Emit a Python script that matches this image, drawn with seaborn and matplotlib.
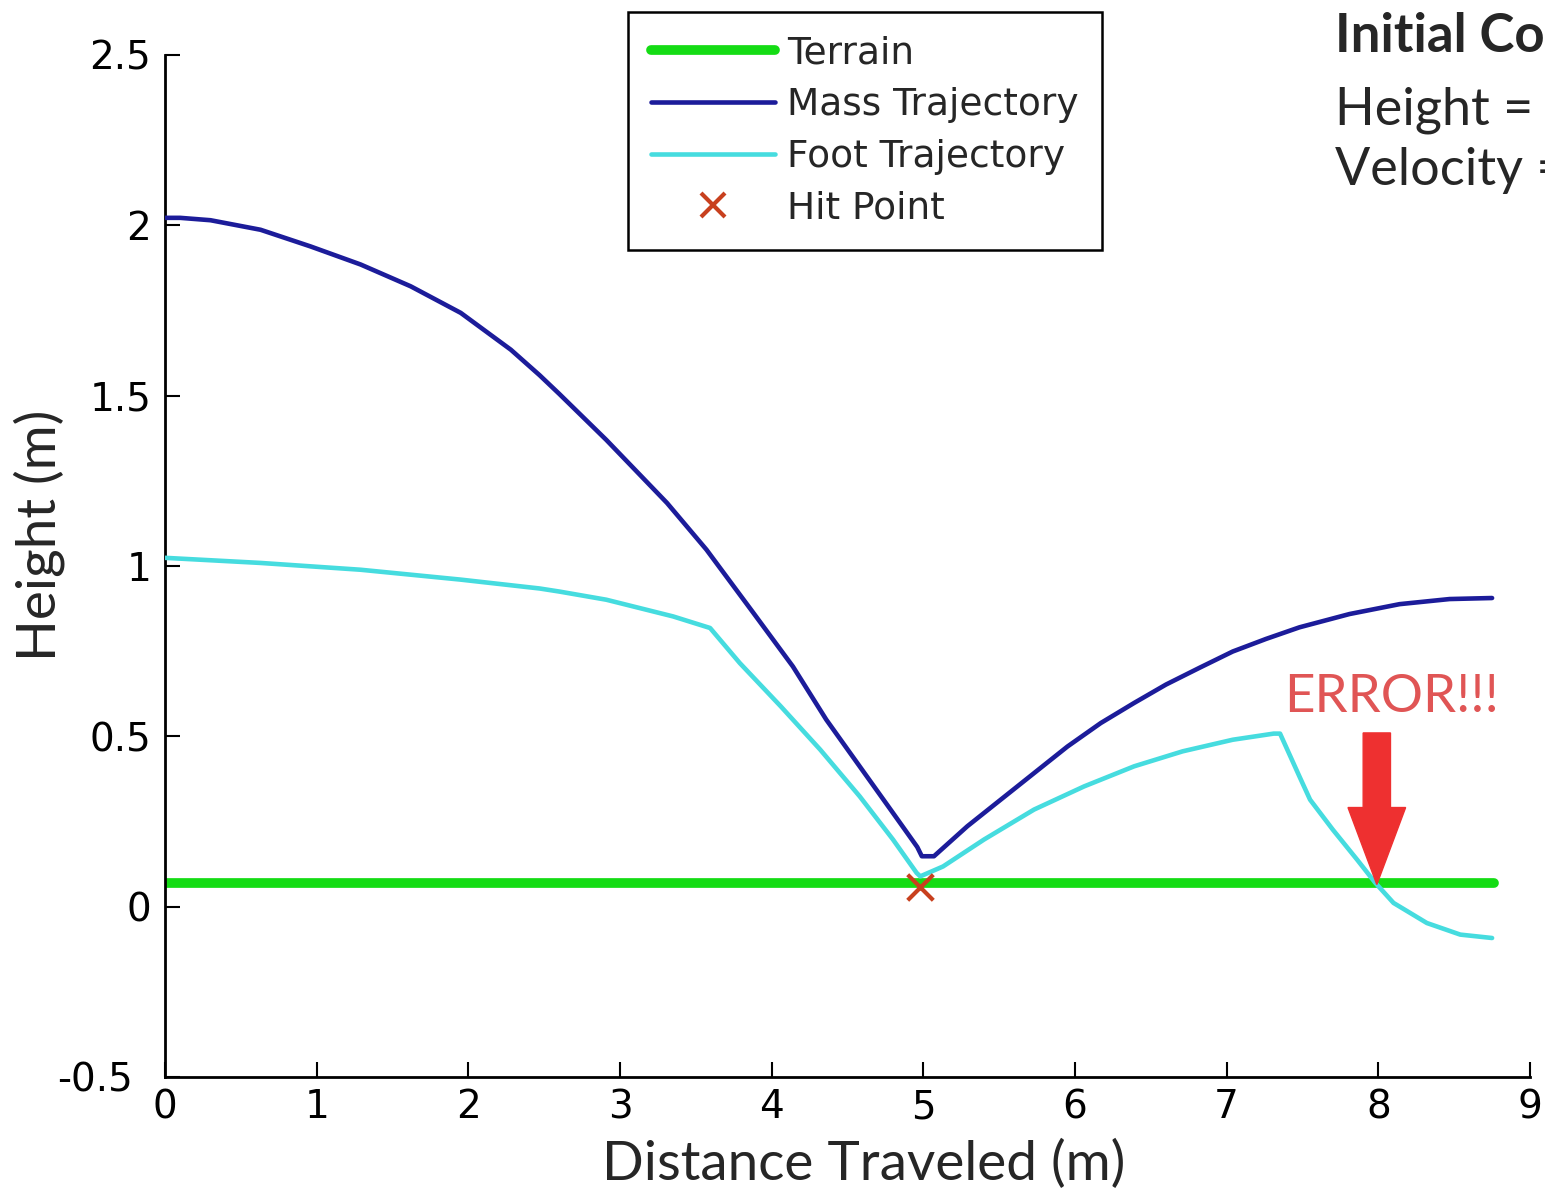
import numpy as np
import pandas as pd
import matplotlib
matplotlib.use("Agg")
import matplotlib.pyplot as plt
from matplotlib.lines import Line2D
from matplotlib.patches import FancyArrow
from matplotlib.transforms import ScaledTranslation
import seaborn as sns

# ---------------- data ----------------
terrain_x = [0.0, 8.76]
terrain_y = [0.069, 0.069]

mass_x = [0.0, 0.10, 0.30, 0.63, 0.96, 1.29, 1.62, 1.95, 2.28, 2.47, 2.60,
          2.91, 3.31, 3.57, 3.88, 4.14, 4.36, 4.58, 4.80, 4.96, 4.99, 5.07,
          5.29, 5.51, 5.73, 5.95, 6.17, 6.39, 6.60, 6.82, 7.04, 7.26, 7.48,
          7.81, 8.14, 8.47, 8.75]
mass_y = [2.022, 2.022, 2.015, 1.987, 1.938, 1.885, 1.821, 1.743, 1.635, 1.560,
          1.505, 1.370, 1.185, 1.048, 0.862, 0.705, 0.549, 0.412, 0.275, 0.175,
          0.148, 0.148, 0.236, 0.314, 0.392, 0.470, 0.539, 0.598, 0.652, 0.701,
          0.749, 0.786, 0.820, 0.859, 0.888, 0.903, 0.906]

foot_x = [0.0, 0.63, 1.29, 1.95, 2.47, 2.60, 2.91, 3.35, 3.594, 3.79, 4.06,
          4.32, 4.58, 4.80, 4.956, 4.98, 5.13, 5.40, 5.73, 6.06, 6.39, 6.71,
          7.04, 7.31, 7.352, 7.48, 7.55, 7.70, 7.86, 7.98, 8.10, 8.32, 8.54, 8.75]
foot_y = [1.024, 1.009, 0.989, 0.960, 0.934, 0.925, 0.901, 0.852, 0.818, 0.715,
          0.588, 0.461, 0.324, 0.197, 0.099, 0.089, 0.118, 0.197, 0.285, 0.353,
          0.412, 0.456, 0.490, 0.508, 0.508, 0.382, 0.314, 0.226, 0.138, 0.070,
          0.011, -0.048, -0.082, -0.092]

hit_x = [4.98]
hit_y = [0.058]

x_ticks = [0, 1, 2, 3, 4, 5, 6, 7, 8, 9]
y_ticks = [-0.5, 0, 0.5, 1, 1.5, 2, 2.5]
y_tick_labels = ["-0.5", "0", "0.5", "1", "1.5", "2", "2.5"]

series_labels = ["Terrain", "Mass Trajectory", "Foot Trajectory", "Hit Point"]

# annotation (error arrow)
err_x = 7.99
err_tip_y = 0.065
err_top_y = 0.51

# ---------------- style ----------------
sns.set_style("white")
plt.rcParams["font.family"] = ["DejaVu Sans"]

C_TERRAIN = "#14dc14"
C_MASS = "#1c1c9a"
C_FOOT = "#46dcdf"
C_HIT = "#c8401e"
C_ERR = "#ee3030"
LABEL_FONT = ["Lato", "DejaVu Sans"]

fig = plt.figure(figsize=(15.45, 11.94), dpi=100)
ax = fig.add_axes([165 / 1545, 1 - 1077 / 1194, (1530 - 165) / 1545, (1077 - 55) / 1194])

df_t = pd.DataFrame({"x": terrain_x, "y": terrain_y})
df_m = pd.DataFrame({"x": mass_x, "y": mass_y})
df_f = pd.DataFrame({"x": foot_x, "y": foot_y})
df_h = pd.DataFrame({"x": hit_x, "y": hit_y})

sns.lineplot(data=df_t, x="x", y="y", ax=ax, color=C_TERRAIN, linewidth=7,
             estimator=None, zorder=2)
sns.lineplot(data=df_m, x="x", y="y", ax=ax, color=C_MASS, linewidth=3.3,
             estimator=None, zorder=3)
sns.lineplot(data=df_f, x="x", y="y", ax=ax, color=C_FOOT, linewidth=3.3,
             estimator=None, zorder=3)
sns.scatterplot(data=df_h, x="x", y="y", ax=ax, marker="x", s=340,
                color=C_HIT, linewidth=3, zorder=4)

# error arrow
ax.add_patch(FancyArrow(err_x, err_top_y, 0, err_tip_y - err_top_y,
                        width=0.18, head_width=0.38, head_length=0.226,
                        length_includes_head=True, color=C_ERR, zorder=5))
ax.text(8.09, 0.57, "ERROR!!!", color="#e05555", fontsize=38,
        family=LABEL_FONT, ha="center", va="baseline")

ax.set_xlim(0, 9)
ax.set_ylim(-0.5, 2.5)
ax.set_xticks(x_ticks)
ax.set_xticklabels([str(t) for t in x_ticks])
ax.set_yticks(y_ticks)
ax.set_yticklabels(y_tick_labels)
ax.tick_params(direction="in", length=11, width=1.5, labelsize=28,
               colors="black", pad=8, bottom=True, left=True)
ax.tick_params(axis="y", pad=10)
sns.despine(ax=ax, top=True, right=True)
for sp in ["left", "bottom"]:
    ax.spines[sp].set_linewidth(2)
    ax.spines[sp].set_color("black")

# MATLAB nudges the lowest y label left so it does not collide with the "0" x label
lowest = ax.get_yticklabels()[0]
lowest.set_transform(lowest.get_transform() + ScaledTranslation(-0.18, 0, fig.dpi_scale_trans))

ax.set_xlabel("Distance Traveled (m)", fontsize=39.5, family=LABEL_FONT)
ax.set_ylabel("Height (m)", fontsize=39.5, family=LABEL_FONT)
ax.xaxis.set_label_coords(0.512, -0.0607)
ax.yaxis.set_label_coords(-0.0733, 0.530)

handles = [
    Line2D([], [], color=C_TERRAIN, linewidth=7),
    Line2D([], [], color=C_MASS, linewidth=3.3),
    Line2D([], [], color=C_FOOT, linewidth=3.3),
    Line2D([], [], color=C_HIT, linestyle="none", marker="x", markersize=17, mew=3),
]
leg = ax.legend(handles, series_labels, loc="upper left",
                bbox_to_anchor=((628 - 165) / 1365, (1077 - 12) / 1022),
                fontsize=27, frameon=True, fancybox=False, framealpha=1,
                edgecolor="black", handlelength=3.3, handletextpad=0.32,
                labelspacing=0.42, borderpad=0.62, borderaxespad=0)
leg.get_frame().set_linewidth(1.8)

# initial conditions (cut off by the figure edge in the original)
fig.text(1335 / 1545, 1 - 52 / 1194, "Initial Conditions", fontsize=38,
         weight="bold", family=LABEL_FONT, va="baseline", ha="left")
fig.text(1335 / 1545, 1 - 125 / 1194, "Height =", fontsize=37.5,
         family=LABEL_FONT, va="baseline", ha="left")
fig.text(1335 / 1545, 1 - 185 / 1194, "Velocity =", fontsize=37.5,
         family=LABEL_FONT, va="baseline", ha="left")

fig.savefig("out.png", dpi=100)
